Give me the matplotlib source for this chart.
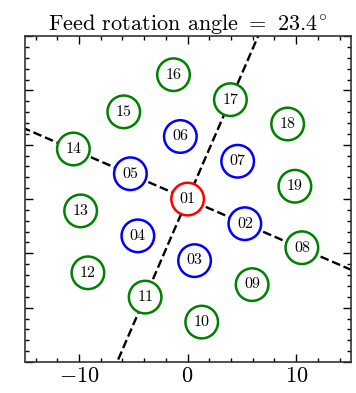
import matplotlib
matplotlib.use('Agg')
import matplotlib.pyplot as plt
from matplotlib.patches import Circle
from matplotlib.ticker import MultipleLocator
import numpy as np

plt.rcParams['font.family'] = 'serif'
plt.rcParams['font.serif'] = ['cmr10']
plt.rcParams['mathtext.fontset'] = 'cm'
plt.rcParams['axes.formatter.use_mathtext'] = True

# feed horn positions (offsets on the sky) and labels
feed_ids = ['01', '02', '03', '04', '05', '06', '07',
            '08', '09', '10', '11', '12', '13', '14', '15', '16', '17', '18', '19']
feed_x = [0.0, 5.27, 0.64, -4.58, -5.27, -0.67, 4.61,
          10.52, 5.94, 1.30, -3.91, -9.18, -9.85, -10.52, -5.88, -1.30, 3.94, 9.21, 9.88]
feed_y = [0.0, -2.27, -5.67, -3.39, 2.33, 5.76, 3.48,
          -4.48, -7.88, -11.33, -9.03, -6.79, -1.09, 4.61, 8.03, 11.45, 9.15, 6.91, 1.18]
feed_ring = [0, 1, 1, 1, 1, 1, 1, 2, 2, 2, 2, 2, 2, 2, 2, 2, 2, 2, 2]
ring_colors = ['red', 'blue', 'green']
rotation = 23.4
beam_radius = 1.5

fig = plt.figure(figsize=(3.56, 3.93), dpi=100)
ax = fig.add_axes([0.065, 0.079, 0.924, 0.829])

# scan direction lines through the centre feed
L = 30
for ang in [-rotation, 90 - rotation]:
    a = np.deg2rad(ang)
    ax.plot([-L * np.cos(a), L * np.cos(a)], [-L * np.sin(a), L * np.sin(a)],
            'k--', lw=1.7, zorder=1)

for fid, x, y, r in zip(feed_ids, feed_x, feed_y, feed_ring):
    ax.add_patch(Circle((x, y), beam_radius, facecolor='white',
                        edgecolor=ring_colors[r], lw=1.8, zorder=2))
    ax.text(x, y, fid, ha='center', va='center', fontsize=11.5, zorder=3)

ax.set_xlim(-15, 15)
ax.set_ylim(-15, 15)
ax.set_aspect('equal')
ax.xaxis.set_major_locator(MultipleLocator(10))
ax.xaxis.set_minor_locator(MultipleLocator(2))
ax.yaxis.set_major_locator(MultipleLocator(5))
ax.yaxis.set_minor_locator(MultipleLocator(1))
ax.tick_params(which='both', direction='in', top=True, right=True)
ax.tick_params(which='major', length=6, width=1)
ax.tick_params(which='minor', length=3, width=1)
ax.tick_params(axis='x', labelsize=16)
ax.tick_params(axis='y', labelleft=False)
for s in ax.spines.values():
    s.set_linewidth(1.2)
    s.set_color('#333333')

ax.set_title(r'Feed rotation angle $=$ 23.4$^{\circ}$', fontsize=16, pad=4)

fig.savefig('out.png', dpi=100)
